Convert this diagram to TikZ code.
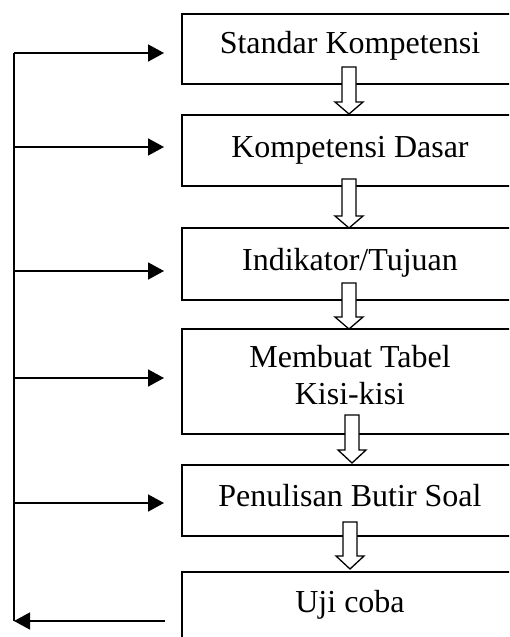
\documentclass[tikz,border=0pt]{standalone}
\usepackage{fontspec}
\setmainfont{Liberation Serif}
\usetikzlibrary{arrows.meta}
\newcommand\hollowarrow[4]{%
  \draw[hollow] ({#1-7},#2) -- ({#1+7},#2) -- ({#1+7},#3) -- ({#1+14},#3)
    -- (#1,#4) -- ({#1-14},#3) -- ({#1-7},#3) -- cycle;}
\begin{document}
\begin{tikzpicture}[x=1pt,y=-1pt,
  box/.style={draw, line width=1.6pt, minimum width=336pt, minimum height=#1,
    inner sep=0pt, outer sep=0pt, anchor=north west},
  lbl/.style={font=\fontsize{32}{37}\selectfont, align=center, inner sep=0pt},
  feed/.style={line width=1.6pt, -{Triangle[length=16pt,width=17pt]}},
  hollow/.style={draw, line width=1.3pt, fill=white, line join=miter}]
\useasboundingbox (0,0) rectangle (509,637);
\clip (0,0) rectangle (509,637);
% boxes
\node[box=70pt]  (b1) at (182,14)  {};
\node[box=71pt]  (b2) at (182,115) {};
\node[box=72pt]  (b3) at (182,228) {};
\node[box=105pt] (b4) at (182,329) {};
\node[box=71pt]  (b5) at (182,465) {};
\node[box=72pt]  (b6) at (182,572) {};
% labels
\node[lbl, anchor=base] (l1) at (350,53)  {Standar Kompetensi};
\node[lbl, anchor=base] (l2) at (350,157) {Kompetensi Dasar};
\node[lbl, anchor=base] (l3) at (350,270) {Indikator/Tujuan};
\node[lbl, anchor=center] (l4) at (350,375.5) {Membuat Tabel\\Kisi-kisi};
\node[lbl, anchor=base] (l5) at (350,506) {Penulisan Butir Soal};
\node[lbl, anchor=base] (l6) at (350,612) {Uji coba};
% hollow flow arrows
\hollowarrow{349}{67}{102}{114}
\hollowarrow{349}{179}{216}{228}
\hollowarrow{349}{283}{317}{329}
\hollowarrow{352}{415}{450}{463}
\hollowarrow{350}{522}{556}{569}
% feedback loop
\coordinate (s1) at (14,53);
\coordinate (s2) at (14,147);
\coordinate (s3) at (14,271);
\coordinate (s4) at (14,378);
\coordinate (s5) at (14,503);
\coordinate (s6) at (14,621);
\coordinate (t1) at (164,53);
\coordinate (t2) at (164,147);
\coordinate (t3) at (164,271);
\coordinate (t4) at (164,378);
\coordinate (t5) at (164,503);
\coordinate (u6) at (165,621);
\draw[line width=1.6pt] (s1) -- (s6);
\draw[feed] (s1) -- (t1);
\draw[feed] (s2) -- (t2);
\draw[feed] (s3) -- (t3);
\draw[feed] (s4) -- (t4);
\draw[feed] (s5) -- (t5);
\draw[feed] (u6) -- (s6);
\end{tikzpicture}
\end{document}
